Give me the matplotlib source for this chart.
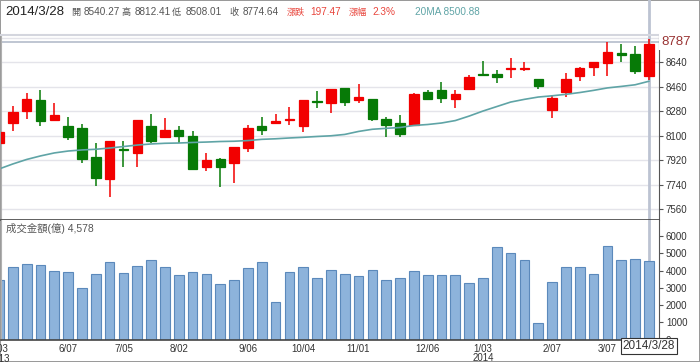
import matplotlib
matplotlib.use("Agg")
import matplotlib.pyplot as plt
import numpy as np

plt.rcParams['font.family'] = ['Liberation Sans', 'Noto Sans CJK TC', 'DejaVu Sans']

# ---------------- data (weekly, 2013/5/03 .. 2014/3/28) ----------------
opens  = [8045, 8192, 8284, 8363, 8214, 8174, 8160, 7946, 7783, 8005,
          7976, 8174, 8089, 8143, 8099, 7873, 7930, 7898, 8008, 8172,
          8192, 8216, 8172, 8354, 8339, 8453, 8363, 8368, 8223, 8196,
          8179, 8424, 8436, 8368, 8446, 8557, 8554, 8589, 8590, 8517,
          8290, 8420, 8542, 8603, 8633, 8708, 8699, 8540.27]
highs  = [8150, 8319, 8417, 8436, 8343, 8240, 8184, 8045, 8065, 8062,
          8218, 8260, 8229, 8174, 8137, 7976, 7935, 8018, 8179, 8236,
          8260, 8309, 8365, 8429, 8445, 8455, 8478, 8370, 8240, 8255,
          8417, 8436, 8497, 8436, 8547, 8650, 8583, 8669, 8644, 8520,
          8400, 8564, 8608, 8644, 8791, 8772, 8760, 8812.41]
lows   = [8020, 8137, 8226, 8172, 8210, 8069, 7902, 7731, 7648, 7869,
          7873, 8045, 8085, 8045, 7849, 7841, 7722, 7751, 7983, 8106,
          8190, 8179, 8130, 8306, 8265, 8319, 8343, 8209, 8093, 8089,
          8175, 8363, 8343, 8306, 8443, 8545, 8486, 8522, 8576, 8442,
          8229, 8385, 8505, 8542, 8542, 8644, 8556, 8508.01]
closes = [8130, 8277, 8368, 8209, 8251, 8093, 7932, 7788, 8060, 7998,
          8216, 8062, 8143, 8099, 7854, 7922, 7869, 8015, 8160, 8143,
          8209, 8223, 8363, 8349, 8442, 8348, 8387, 8226, 8179, 8113,
          8407, 8370, 8375, 8405, 8534, 8547, 8534, 8598, 8596, 8466,
          8380, 8515, 8600, 8640, 8713, 8694, 8577.17, 8774.64]
ma20   = [7856, 7893, 7926, 7952, 7974, 7988, 7996, 8001, 8010, 8021,
          8032, 8040, 8045, 8047, 8051, 8054, 8058, 8060, 8065, 8074,
          8078, 8084, 8089, 8095, 8100, 8110, 8132, 8148, 8155, 8161,
          8176, 8183, 8194, 8212, 8245, 8282, 8315, 8348, 8368, 8385,
          8394, 8405, 8418, 8434, 8452, 8463, 8475, 8500.88]
volume = [3447, 4183, 4392, 4316, 3969, 3893, 2966, 3795, 4473, 3835,
          4258, 4589, 4183, 3737, 3893, 3795, 3198, 3447, 4125, 4508,
          2155, 3928, 4218, 3546, 4009, 3795, 3679, 4009, 3447, 3580,
          3969, 3720, 3754, 3720, 3256, 3546, 5342, 5029, 4589, 973,
          3331, 4183, 4183, 3795, 5400, 4620, 4690, 4578]
tick_idx = [5, 9, 13, 18, 22, 26, 31, 35, 40, 44]
tick_labels = ['6/07', '7/05', '8/02', '9/06', '10/04', '11/01', '12/06',
               '1/03\n2014', '2/07', '3/07']
first_label = '5/03\n2013'
price_ticks = [7560, 7740, 7920, 8100, 8280, 8460, 8640, 8820]
vol_ticks = [0, 1000, 2000, 3000, 4000, 5000, 6000]
cursor_price = 8787
last_date = '2014/3/28'

# ---------------- styling ----------------
RED = '#f20000'
GREEN = '#077a07'
MA_C = '#5fa4a6'
VOL_FACE = '#8db3db'
VOL_EDGE = '#5b89bb'
GRID = '#e4e4ea'
AX_C = '#555555'

n = len(closes)
x = np.arange(n)
o = np.array(opens); h = np.array(highs); l = np.array(lows); c = np.array(closes)
up = c >= o
cols = [RED if u else GREEN for u in up]

fig = plt.figure(figsize=(7.0, 3.62), dpi=100)
fig.patch.set_facecolor('white')
fig.patch.set_edgecolor('#9a9a9a')
fig.patch.set_linewidth(1.2)

W, H = 700.0, 362.0
left = 1 / W
right = 659 / W
ax = fig.add_axes([left, (H - 220) / H, right - left, (220 - 35) / H])
axv = fig.add_axes([left, (H - 339.5) / H, right - left, (339.5 - 220) / H], sharex=ax)

xlim = (0.144, 47.73)

# ---- price panel ----
for t in price_ticks:
    ax.axhline(t, color=GRID, lw=1, zorder=0)
ax.vlines(x, l, h, colors=cols, lw=1.1, zorder=2)
body_bottom = np.minimum(o, c)
body_h = np.abs(c - o)
ax.bar(x, body_h, bottom=body_bottom, width=0.68, color=cols,
       edgecolor=cols, linewidth=0.9, zorder=3)
ax.plot(x, ma20, color=MA_C, lw=1.2, zorder=4)
ax.axhline(cursor_price, color='#b4bccb', lw=1.2, zorder=1)
ax.axvline(x[-1], ymin=0, ymax=1 + 35 / 185, color='#bcc3d2', lw=2,
           zorder=1, clip_on=False)

ax.set_xlim(*xlim)
ax.set_ylim(7481, 8841)
ax.yaxis.tick_right()
ax.set_yticks(price_ticks)
ax.set_yticklabels([str(t) for t in price_ticks])
ax.tick_params(axis='y', length=3, width=0.8, color=AX_C, labelsize=7,
               labelcolor='#333333', pad=2)
ax.tick_params(axis='x', bottom=False, labelbottom=False)
ax.spines['left'].set_color('#b0b0b0')
ax.spines['top'].set_color('#d4d6de')
ax.spines['top'].set_linewidth(1.5)
ax.spines['right'].set_color(AX_C)
ax.spines['bottom'].set_color('#444444')
ax.spines['bottom'].set_linewidth(1.2)
ax.text(1.003, cursor_price, str(cursor_price), transform=ax.get_yaxis_transform(),
        ha='left', va='center', fontsize=9.5, color='#993333', zorder=10,
        bbox=dict(boxstyle='square,pad=0.15', fc='white', ec='none'))

# ---- volume panel ----
axv.bar(x, volume, width=0.7, color=VOL_FACE, edgecolor=VOL_EDGE,
        linewidth=0.8, zorder=2)
axv.axvline(x[-1], color='#bcc3d2', lw=2, zorder=1)
axv.set_ylim(0, 6930)
axv.yaxis.tick_right()
axv.set_yticks(vol_ticks)
axv.set_yticklabels([str(t) for t in vol_ticks])
axv.tick_params(axis='y', length=3, width=0.8, color=AX_C, labelsize=7,
                labelcolor='#333333', pad=2)
axv.set_xticks(tick_idx)
axv.set_xticklabels(tick_labels)
axv.tick_params(axis='x', length=0, labelsize=7, labelcolor='#333333', pad=3)
for lab in axv.get_xticklabels():
    lab.set_linespacing(0.95)
axv.spines['left'].set_color('#b0b0b0')
axv.spines['top'].set_visible(False)
axv.spines['right'].set_color(AX_C)
axv.spines['bottom'].set_color('#444444')
axv.spines['bottom'].set_linewidth(1.2)
axv.text(0, -0.04, first_label, transform=axv.get_xaxis_transform(),
         ha='center', va='top', fontsize=7, color='#333333', linespacing=0.95,
         clip_on=False)
axv.text(x[-1], -0.005, last_date, transform=axv.get_xaxis_transform(),
         ha='center', va='top', fontsize=8.5, color='#333333', zorder=10,
         clip_on=False,
         bbox=dict(boxstyle='square,pad=0.15', fc='white', ec='#333333', lw=0.8))
axv.text(0.008, 0.93, '成交金額(億) {:,}'.format(volume[-1]), transform=axv.transAxes,
         ha='left', va='center', fontsize=7.5, color='#555555')

# ---- header ----
prev_close = closes[-2]
chg = closes[-1] - prev_close
pct = chg / prev_close * 100
hy = 1 - 12 / H
fig.text(5 / W, hy, last_date, ha='left', va='center', fontsize=9.5,
         color='#222222')
gray = '#555555'
redt = '#e8453c'
hdr = [
    (71, '開', gray, 6.6), (84, '{:.2f}'.format(opens[-1]), gray, 7.2),
    (122, '高', gray, 6.6), (135, '{:.2f}'.format(highs[-1]), gray, 7.2),
    (172, '低', gray, 6.6), (186, '{:.2f}'.format(lows[-1]), gray, 7.2),
    (229, '收', gray, 6.6), (243, '{:.2f}'.format(closes[-1]), gray, 7.2),
    (287, '漲跌', redt, 6.6), (310, '{:.2f}'.format(chg), redt, 7.2),
    (349, '漲幅', redt, 6.6), (372, '{:.1f}%'.format(pct), redt, 7.2),
    (415, '20MA {:.2f}'.format(ma20[-1]), MA_C, 7.2),
]
for px, s, col, fs in hdr:
    fig.text(px / W, hy, s, ha='left', va='center', fontsize=fs, color=col)

fig.savefig('out.png', dpi=100)
